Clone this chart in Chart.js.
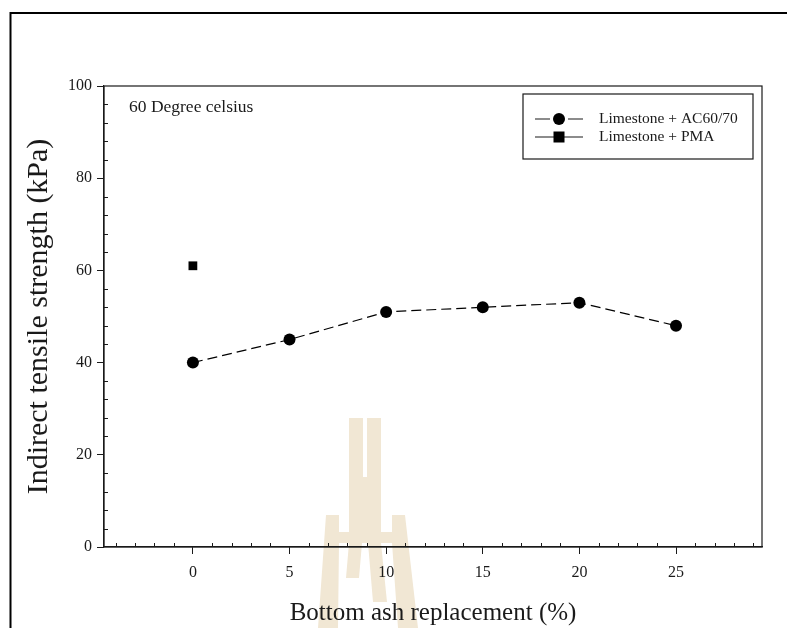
<!DOCTYPE html>
<html>
<head>
<meta charset="utf-8">
<script src="https://cdn.jsdelivr.net/npm/chart.js@4.4.1/dist/chart.umd.min.js"></script>
<style>
  html, body { margin: 0; padding: 0; background: #fff; }
  canvas { display: block; }
</style>
</head>
<body>
<canvas id="itsChart" width="787" height="628"></canvas>
<script>
// data
const replacement = [0, 5, 10, 15, 20, 25];          // bottom ash replacement (%)
const acStrength = [40, 45, 51, 52, 53, 48];          // Limestone + AC60/70 (kPa)
const pmaReplacement = [0];
const pmaStrength = [61];                             // Limestone + PMA (kPa)
const xTicks = [0, 5, 10, 15, 20, 25];
const yTicks = [0, 20, 40, 60, 80, 100];

const FONT = "'Liberation Serif', 'Times New Roman', serif";
const INK = '#1a1a1a';

// page border, watermark, plot frame, minor ticks, legend, note
const decor = {
    id: 'decor',
    beforeDraw(chart) {
        const c = chart.ctx;
        c.save();
        c.fillStyle = '#fff';
        c.fillRect(0, 0, chart.width, chart.height);
        // faint logo watermark
        c.fillStyle = '#f1e7d4';
        const polys = [
            [[349, 418], [363, 418], [363, 477], [367, 477], [367, 418], [381, 418], [381, 543], [349, 543]],
            [[326, 515], [339, 515], [339, 532], [349, 532], [349, 543], [339, 543], [338, 628], [318, 628]],
            [[392, 515], [405, 515], [418, 628], [398, 628], [392, 543], [381, 543], [381, 532], [392, 532]],
            [[349, 543], [362, 543], [359, 578], [346, 578]],
            [[368, 543], [381, 543], [387, 602], [373, 602]]
        ];
        polys.forEach(p => {
            c.beginPath();
            p.forEach(([x, y], i) => i ? c.lineTo(x, y) : c.moveTo(x, y));
            c.closePath();
            c.fill();
        });
        // page border
        c.strokeStyle = '#000';
        c.lineWidth = 2;
        c.beginPath();
        c.moveTo(10.5, chart.height);
        c.lineTo(10.5, 13);
        c.lineTo(chart.width, 13);
        c.stroke();
        c.restore();
    },
    afterDraw(chart) {
        const c = chart.ctx;
        const a = chart.chartArea;
        const xs = chart.scales.x, ys = chart.scales.y;
        c.save();
        c.strokeStyle = INK;
        c.lineWidth = 1.2;
        c.strokeRect(a.left, a.top, a.right - a.left, a.bottom - a.top);

        // minor ticks pointing inward
        c.lineWidth = 1;
        c.beginPath();
        for (let v = 4; v < 100; v += 4) {
            if (v % 20 === 0) continue;
            const y = Math.round(ys.getPixelForValue(v)) + 0.5;
            c.moveTo(a.left, y);
            c.lineTo(a.left + 4, y);
        }
        for (let v = Math.ceil(xs.min); v <= xs.max; v++) {
            if (v % 5 === 0) continue;
            const x = Math.round(xs.getPixelForValue(v)) + 0.5;
            c.moveTo(x, a.bottom);
            c.lineTo(x, a.bottom - 4);
        }
        c.stroke();

        // note
        c.fillStyle = INK;
        c.font = '17.5px ' + FONT;
        c.textBaseline = 'middle';
        c.fillText('60 Degree celsius', a.left + 25, a.top + 21);

        // legend
        const bx = a.right - 239, by = a.top + 8, bw = 230, bh = 65;
        c.lineWidth = 1.2;
        c.strokeStyle = INK;
        c.strokeRect(bx, by, bw, bh);
        c.font = '15.5px ' + FONT;
        chart.data.datasets.forEach((ds, i) => {
            const y = by + 25 + i * 18;
            const dashed = ds.borderDash && ds.borderDash.length;
            c.strokeStyle = INK;
            c.lineWidth = 1.2;
            c.setLineDash(dashed ? [15, 18] : []);
            c.beginPath();
            c.moveTo(bx + 12, y);
            c.lineTo(bx + 60, y);
            c.stroke();
            c.setLineDash([]);
            c.fillStyle = '#000';
            if (ds.pointStyle === 'rect') {
                c.fillRect(bx + 36 - 5.5, y - 5.5, 11, 11);
            } else {
                c.beginPath();
                c.arc(bx + 36, y, 6, 0, Math.PI * 2);
                c.fill();
            }
            c.fillStyle = INK;
            c.fillText(ds.label, bx + 76, y);
        });
        c.restore();
    }
};

new Chart(document.getElementById('itsChart'), {
    type: 'line',
    data: {
        datasets: [
            {
                label: 'Limestone + AC60/70',
                data: replacement.map((x, i) => ({ x: x, y: acStrength[i] })),
                borderColor: '#000',
                borderWidth: 1.2,
                borderDash: [10, 5],
                pointStyle: 'circle',
                pointRadius: 6,
                pointBackgroundColor: '#000',
                pointBorderWidth: 0,
                tension: 0
            },
            {
                label: 'Limestone + PMA',
                data: pmaReplacement.map((x, i) => ({ x: x, y: pmaStrength[i] })),
                borderColor: '#000',
                borderWidth: 1.2,
                borderDash: [],
                showLine: false,
                pointStyle: 'rect',
                pointRadius: 6.2,
                pointBackgroundColor: '#000',
                pointBorderWidth: 0
            }
        ]
    },
    options: {
        responsive: false,
        animation: false,
        layout: { padding: { top: 86, right: 25, left: 0, bottom: 0 } },
        plugins: {
            legend: { display: false },
            tooltip: { enabled: false }
        },
        scales: {
            x: {
                type: 'linear',
                min: -4.6,
                max: 29.45,
                afterBuildTicks: s => { s.ticks = xTicks.map(v => ({ value: v })); },
                afterFit: s => { s.height = 81; },
                grid: { drawOnChartArea: false, tickLength: 7, color: INK, lineWidth: 1 },
                border: { color: INK, width: 1.2 },
                ticks: { color: INK, padding: 9, maxRotation: 0, font: { family: FONT, size: 16 } },
                title: {
                    display: true,
                    text: 'Bottom ash replacement (%)',
                    color: INK,
                    padding: { top: 0, bottom: 0 },
                    font: { family: FONT, size: 25 }
                }
            },
            y: {
                min: 0,
                max: 100,
                afterBuildTicks: s => { s.ticks = yTicks.map(v => ({ value: v })); },
                afterFit: s => { s.width = 104; },
                grid: { drawOnChartArea: false, tickLength: 7, color: INK, lineWidth: 1 },
                border: { color: INK, width: 1.2 },
                ticks: { color: INK, padding: 5, font: { family: FONT, size: 16 } },
                title: {
                    display: true,
                    text: 'Indirect tensile strength (kPa)',
                    color: INK,
                    padding: { top: 21, bottom: 0 },
                    font: { family: FONT, size: 30 }
                }
            }
        }
    },
    plugins: [decor]
});
</script>
</body>
</html>
